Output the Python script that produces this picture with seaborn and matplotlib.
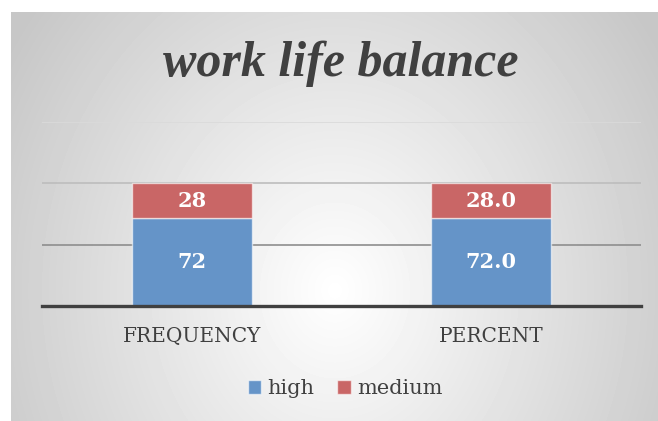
import numpy as np
import pandas as pd
import matplotlib
matplotlib.use("Agg")
import matplotlib.pyplot as plt
import seaborn as sns
from matplotlib.patches import Patch

# ---- data ----
categories = ["FREQUENCY", "PERCENT"]
high = [72, 72.0]
medium = [28, 28.0]
high_labels = ["72", "72.0"]
medium_labels = ["28", "28.0"]
series_names = ["high", "medium"]
title = "work life balance"

sns.set_theme(style="white")
plt.rcParams["font.family"] = ["DejaVu Serif", "DejaVu Sans"]

W, H = 658, 421
fig = plt.figure(figsize=(W / 100, H / 100), dpi=100)
fig.patch.set_facecolor("white")

# radial gradient background panel
bg = fig.add_axes([11 / W, 0, (W - 11) / W, (H - 12) / H], zorder=-10)
ny, nx = 409, 647
yy, xx = np.mgrid[0:ny, 0:nx]
cx, cy = nx * 0.50, ny * 0.68
r = np.sqrt(((xx - cx) / (nx * 0.62)) ** 2 + ((yy - cy) / (ny * 1.15)) ** 2)
val = np.clip(1.0 - 0.23 * r, 0.78, 1.0)
bg.imshow(val, cmap="gray", vmin=0, vmax=1, aspect="auto", interpolation="bilinear")
bg.axis("off")

ax = fig.add_axes([42 / W, 1 - 306 / H, (641 - 42) / W, (306 - 122) / H])
ax.set_facecolor("none")

df = pd.DataFrame({"category": categories, "high": high, "medium": medium})
blue = "#6594c8"
red = "#c96666"

sns.barplot(data=df, x="category", y="high", color=blue, width=0.4, ax=ax,
            edgecolor=(1, 1, 1, 0.6), linewidth=1, saturation=1)
sns.barplot(data=df, x="category", y="medium", bottom=df["high"], color=red, width=0.4,
            ax=ax, edgecolor=(1, 1, 1, 0.6), linewidth=1, saturation=1)

ax.bar_label(ax.containers[0], labels=high_labels, label_type="center",
             color="white", fontsize=15, fontweight="bold")
ax.bar_label(ax.containers[1], labels=medium_labels, label_type="center",
             color="white", fontsize=15, fontweight="bold")

ax.set_xlim(-0.5, 1.5)
ax.set_ylim(0, 150)
ax.set_yticks([0, 50, 100, 150])
ax.set_yticklabels([])
ax.yaxis.grid(True)
ax.set_axisbelow(True)
grid_colors = ["none", "#8e8e8e", "#bdbdbd", "#dadada"]
for gl, c in zip(ax.get_ygridlines(), grid_colors):
    gl.set_color(c)
    gl.set_linewidth(1.2)
ax.tick_params(axis="both", length=0)
ax.tick_params(axis="x", pad=15, labelsize=14.5, labelcolor="#404040")
ax.set_xlabel("")
ax.set_ylabel("")
for s in ["top", "left", "right"]:
    ax.spines[s].set_visible(False)
ax.spines["bottom"].set_color("#404040")
ax.spines["bottom"].set_linewidth(2.4)

fig.text(0.5 + 12 / W, 1 - 64 / H, title, ha="center", va="center", fontsize=36,
         fontweight="bold", fontstyle="italic", color="#404040",
         family=["Liberation Serif", "DejaVu Serif"])

handles = [Patch(facecolor=blue, edgecolor=(1, 1, 1, 0.6)), Patch(facecolor=red, edgecolor=(1, 1, 1, 0.6))]
fig.legend(handles, series_names, loc="center", bbox_to_anchor=(345 / W, 1 - 389 / H), ncol=2,
           frameon=False, fontsize=15, handlelength=0.65, handleheight=0.65,
           handletextpad=0.3, columnspacing=1.1, labelcolor="#404040")

fig.savefig("out.png", dpi=100)
